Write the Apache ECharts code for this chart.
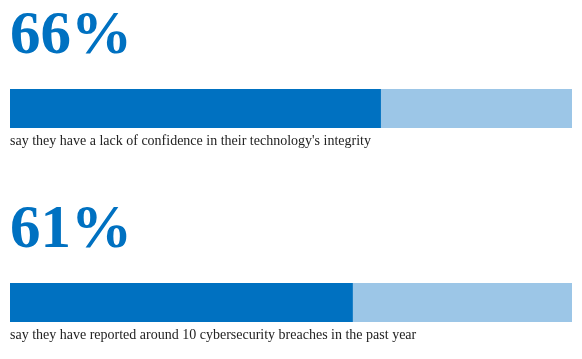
<!DOCTYPE html>
<html><head><meta charset="utf-8">
<script src="https://cdn.jsdelivr.net/npm/echarts@6/dist/echarts.min.js"></script>
<style>html,body{margin:0;padding:0;background:#fff}#c{width:582px;height:359px}</style>
</head><body><div id="c"></div>
<script>
const percents = [66, 61];
const captions = [
  "say they have a lack of confidence in their technology's integrity",
  "say they have reported around 10 cybersecurity breaches in the past year"
];
const maxValue = 100;

const gridTops = [89, 283];
const barH = 39;
const chart = echarts.init(document.getElementById('c'), null, {renderer: 'canvas'});
const grids = [], xAxes = [], yAxes = [], series = [], titles = [];
percents.forEach((p, i) => {
  grids.push({left: 10, right: 10, top: gridTops[i], height: barH});
  xAxes.push({type: 'value', gridIndex: i, min: 0, max: maxValue, show: false});
  yAxes.push({type: 'category', gridIndex: i, data: [''], show: false});
  series.push({
    type: 'bar', xAxisIndex: i, yAxisIndex: i, data: [p], barWidth: barH,
    itemStyle: {color: '#0071C1'}, showBackground: true,
    backgroundStyle: {color: '#9CC6E7'}, silent: true, animation: false
  });
  titles.push({
    text: p + '%', left: 5, top: gridTops[i] - 89 + 2,
    textStyle: {fontFamily: 'Liberation Serif', fontWeight: 'bold', fontSize: 61, color: '#0071C1', lineHeight: 61}
  });
  titles.push({
    text: captions[i], left: 5, top: gridTops[i] + barH,
    textStyle: {fontFamily: 'Liberation Serif', fontWeight: 'normal', fontSize: 14, color: '#222', lineHeight: 16}
  });
});
chart.setOption({animation: false, title: titles, grid: grids, xAxis: xAxes, yAxis: yAxes, series: series});
</script></body></html>
